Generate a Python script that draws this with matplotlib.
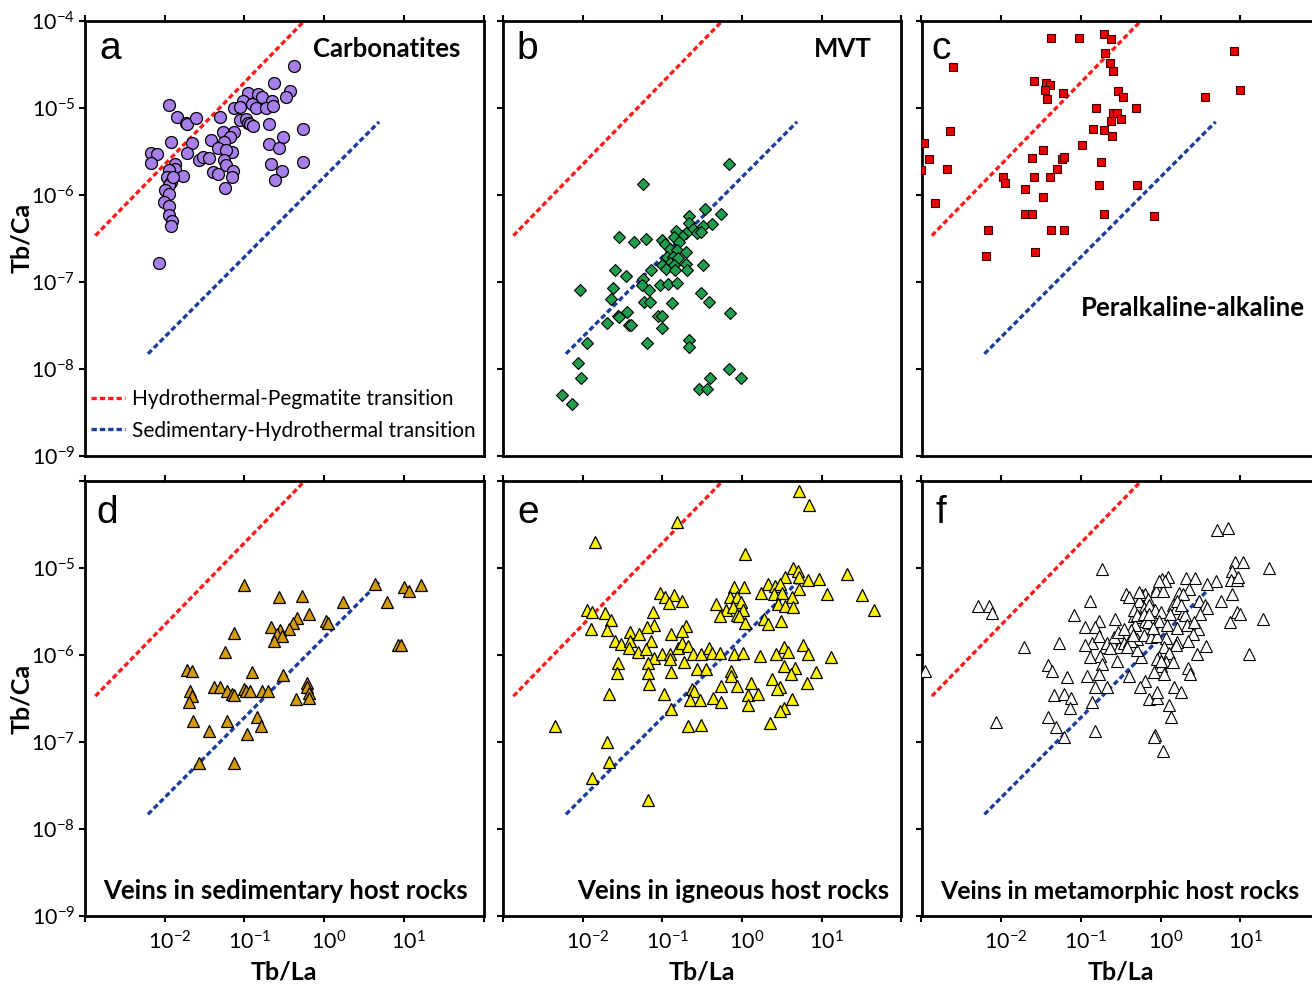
import numpy as np
import matplotlib
matplotlib.use("Agg")
import matplotlib.pyplot as plt
from matplotlib.lines import Line2D
from matplotlib.transforms import ScaledTranslation

plt.rcParams['font.family'] = ['Lato', 'DejaVu Sans']
plt.rcParams['mathtext.fontset'] = 'custom'
plt.rcParams['mathtext.rm'] = 'Lato'
plt.rcParams['mathtext.it'] = 'Lato:italic'
plt.rcParams['mathtext.bf'] = 'Lato:bold'

# ---------------- data (log10 values) ----------------
# a: Carbonatites
carb_log_tbla = [-0.375, -0.63, -0.43, -0.48, -0.96, -0.83, -0.78, -0.65, -1.02, -1.13,
                 -1.05, -0.91, -0.85, -0.73, -0.64, -1.94, -1.84, -1.73, -1.72, -1.61,
                 -1.30, -1.06, -0.98, -0.96, -0.93, -0.89, -0.69, -0.26, -1.92, -1.66,
                 -1.72, -1.42, -1.27, -1.13, -1.18, -1.25, -1.33, -1.16, -1.23, -0.69,
                 -0.51, -0.56, -2.17, -2.10, -2.17, -1.57, -1.52, -1.45, -1.25, -1.23,
                 -1.40, -1.33, -1.14, -1.15, -1.24, -0.66, -0.53, -0.61, -0.26, -1.87,
                 -1.87, -1.77, -1.95, -1.97, -1.92, -1.95, -2.00, -1.95, -2.01, -1.94,
                 -1.94, -1.91, -1.92, -2.07, -1.90]
carb_log_tbca = [-4.52, -4.71, -4.81, -4.87, -4.83, -4.84, -4.87, -4.92, -4.92, -5.00,
                 -4.99, -4.96, -5.00, -5.00, -4.98, -4.97, -5.10, -5.17, -5.18, -5.12,
                 -5.10, -5.14, -5.13, -5.17, -5.19, -5.21, -5.18, -5.24, -5.39, -5.40,
                 -5.52, -5.37, -5.28, -5.28, -5.34, -5.39, -5.46, -5.51, -5.49, -5.41,
                 -5.34, -5.46, -5.52, -5.53, -5.63, -5.60, -5.57, -5.58, -5.60, -5.66,
                 -5.74, -5.76, -5.73, -5.79, -5.92, -5.65, -5.73, -5.83, -5.62, -5.65,
                 -5.70, -5.78, -5.72, -5.79, -5.85, -5.89, -5.95, -5.99, -6.08, -6.13,
                 -6.23, -6.30, -6.36, -6.79, -5.80]

# b: MVT
mvt_log_tbla = [-0.17, -1.24, -0.46, -0.27, -0.66, -0.38, -0.49, -0.66, -0.61, -0.57,
                -0.52, -0.71, -0.75, -0.83, -0.86, -0.79, -1.00, -0.97, -0.91, -0.82,
                -0.70, -0.94, -0.87, -0.81, -0.91, -1.00, -0.86, -0.95, -0.84, -0.70,
                -0.69, -0.49, -1.55, -1.36, -1.20, -1.59, -1.46, -1.14, -1.24, -1.62,
                -1.25, -1.17, -1.03, -0.93, -0.82, -2.03, -1.64, -1.23, -1.16, -0.88,
                -0.51, -0.42, -1.44, -1.56, -1.54, -1.70, -1.42, -1.39, -1.06, -1.00,
                -1.01, -0.15, -1.95, -1.19, -0.66, -0.66, -2.06, -2.02, -0.16, -0.02,
                -0.40, -0.54, -0.44, -2.26, -2.14]
mvt_log_tbca = [-5.64, -5.88, -6.16, -6.22, -6.24, -6.34, -6.36, -6.32, -6.39, -6.44,
                -6.43, -6.44, -6.47, -6.42, -6.48, -6.54, -6.52, -6.57, -6.62, -6.64,
                -6.66, -6.72, -6.72, -6.73, -6.79, -6.81, -6.81, -6.85, -6.87, -6.80,
                -6.87, -6.81, -6.48, -6.54, -6.51, -6.86, -6.93, -6.86, -6.97, -7.07,
                -7.04, -7.10, -7.04, -7.03, -7.01, -7.10, -7.20, -7.23, -7.23, -7.24,
                -7.13, -7.23, -7.35, -7.40, -7.41, -7.48, -7.50, -7.50, -7.40, -7.40,
                -7.53, -7.36, -7.71, -7.71, -7.67, -7.75, -7.93, -8.11, -8.01, -8.11,
                -8.11, -8.23, -8.23, -8.30, -8.41]

# c: Peralkaline-alkaline
peralk_log_tbla = [-1.37, -1.03, -0.71, -0.62, -0.70, -0.63, -0.60, 0.92, 0.99, 0.56,
                   -2.60, -1.59, -1.44, -1.39, -1.45, -1.42, -1.23, -0.53, -0.47, -0.81,
                   -0.31, -0.60, -0.55, -0.50, -0.62, -0.85, -0.71, -0.61, -2.64, -2.97,
                   -2.90, -3.00, -2.68, -0.98, -1.48, -1.61, -1.24, -1.21, -1.30, -0.75,
                   -1.98, -1.95, -1.59, -1.39, -1.70, -1.48, -0.77, -0.30, -2.83, -1.70,
                   -1.61, -0.71, -0.08, -2.16, -1.37, -1.21, -2.19, -1.57]
peralk_log_tbca = [-4.20, -4.19, -4.15, -4.21, -4.37, -4.48, -4.57, -4.35, -4.79, -4.87,
                   -4.53, -4.69, -4.71, -4.74, -4.79, -4.90, -4.83, -4.81, -4.88, -5.00,
                   -5.00, -5.06, -5.06, -5.13, -5.15, -5.24, -5.25, -5.32, -5.27, -5.40,
                   -5.59, -5.71, -5.70, -5.43, -5.48, -5.58, -5.59, -5.56, -5.70, -5.62,
                   -5.80, -5.86, -5.80, -5.80, -5.93, -6.02, -5.89, -5.89, -6.10, -6.22,
                   -6.22, -6.22, -6.24, -6.41, -6.41, -6.41, -6.71, -6.66]

# d: Veins in sedimentary host rocks
sed_log_tbla = [-1.01, -0.57, -0.28, 0.64, 1.00, 1.07, 1.22, 0.24, 0.79, -0.19,
                0.03, 0.05, -0.34, -0.39, -0.44, -0.66, -0.55, -0.59, -0.53, -0.63,
                -1.13, -1.24, 0.93, 0.97, -1.72, -1.66, -0.90, -0.52, -0.21, -0.22,
                -0.19, -0.19, -0.35, -1.68, -1.66, -1.70, -1.38, -1.30, -1.22, -1.15,
                -1.13, -1.01, -0.98, -0.93, -0.78, -0.70, -1.64, -1.22, -1.44, -0.84,
                -0.79, -0.97, -1.57, -1.13]
sed_log_tbca = [-5.19, -5.33, -5.32, -5.18, -5.21, -5.26, -5.19, -5.39, -5.39, -5.53,
                -5.60, -5.63, -5.57, -5.63, -5.70, -5.68, -5.71, -5.76, -5.78, -5.84,
                -5.74, -5.96, -5.88, -5.88, -6.17, -6.18, -6.19, -6.23, -6.32, -6.37,
                -6.43, -6.49, -6.50, -6.41, -6.47, -6.54, -6.37, -6.36, -6.41, -6.45,
                -6.46, -6.39, -6.41, -6.41, -6.41, -6.41, -6.76, -6.76, -6.87, -6.71,
                -6.81, -6.91, -7.24, -7.24]

# e: Veins in igneous host rocks
ign_log_tbla = [0.71, 0.84, -0.82, -1.85, 0.04, 0.64, 0.70, 0.71, 0.83, 0.96,
                1.31, 0.54, 0.32, 0.41, 0.47, 0.72, 1.07, 1.51, 1.65, -0.10,
                0.03, 0.24, 0.40, 0.50, 0.62, -0.15, -0.06, -0.02, 0.45, 0.54,
                0.64, -0.33, -0.20, -0.11, 0.01, -0.28, -0.07, -0.04, 0.04, 0.27,
                0.33, 0.49, -1.03, -0.97, -0.86, -0.92, -0.75, -1.95, -1.88, -1.72,
                -1.65, -1.89, -1.69, -1.12, -1.10, -1.19, -0.71, -0.75, -1.41, -1.29,
                -1.14, -1.59, -1.52, -1.41, -1.42, -1.30, -1.20, -1.11, -1.00, -0.89,
                -0.90, -0.81, -0.75, -0.68, -0.61, -0.52, -0.42, -0.38, -0.28, -0.10,
                0.01, 0.22, 0.43, 0.53, 0.57, 0.76, 0.83, 1.11, -0.91, -0.73,
                -1.18, -1.56, -1.57, -1.18, -0.89, -0.56, -0.45, -0.14, -0.14, 0.53,
                0.67, 0.61, 0.93, 0.38, -1.17, -0.26, -0.06, 0.11, 0.47, 0.44,
                0.81, -1.67, -0.98, -0.63, -0.60, -0.65, -0.53, -0.36, -0.26, 0.07,
                0.20, 0.08, 0.63, 0.52, 0.48, -0.89, -2.35, -0.68, -0.51, 0.35,
                -1.69, -1.67, -1.88, -1.18]
ign_log_tbca = [-4.11, -4.27, -4.47, -4.70, -4.84, -5.00, -5.03, -5.10, -5.13, -5.12,
                -5.07, -5.10, -5.18, -5.20, -5.18, -5.24, -5.30, -5.31, -5.48, -5.21,
                -5.21, -5.28, -5.30, -5.28, -5.33, -5.33, -5.33, -5.39, -5.41, -5.43,
                -5.44, -5.41, -5.48, -5.44, -5.48, -5.55, -5.54, -5.55, -5.63, -5.58,
                -5.64, -5.60, -5.28, -5.33, -5.31, -5.40, -5.37, -5.48, -5.50, -5.51,
                -5.59, -5.70, -5.71, -5.50, -5.65, -5.67, -5.66, -5.72, -5.73, -5.76,
                -5.83, -5.83, -5.87, -5.83, -5.92, -5.96, -5.93, -6.03, -5.98, -5.75,
                -5.98, -5.92, -5.86, -5.89, -5.98, -5.99, -5.92, -5.97, -5.97, -5.99,
                -5.97, -6.01, -5.99, -5.90, -5.96, -5.88, -5.99, -6.02, -6.04, -6.08,
                -6.09, -6.09, -6.20, -6.20, -6.19, -6.16, -6.16, -6.18, -6.24, -6.12,
                -6.15, -6.22, -6.19, -6.27, -6.33, -6.35, -6.35, -6.32, -6.36, -6.39,
                -6.32, -6.44, -6.44, -6.39, -6.41, -6.51, -6.51, -6.49, -6.54, -6.46,
                -6.45, -6.57, -6.50, -6.61, -6.64, -6.62, -6.81, -6.81, -6.80, -6.78,
                -7.00, -7.23, -7.41, -7.67]

# f: Veins in metamorphic host rocks
meta_log_tbla = [0.71, 0.85, -0.73, 0.93, 1.04, 1.36, 0.89, 0.88, 0.96, 0.97,
                 0.70, 0.58, 0.90, 0.32, 0.43, 0.02, 0.09, 0.05, -0.04, -0.06,
                 0.03, 0.36, 0.23, 0.28, -0.43, -0.40, -0.23, -0.19, -0.16, -0.27,
                 -0.88, -2.29, -2.15, -2.12, -1.09, -0.77, -0.95, -0.82, -0.57, -0.34,
                 -0.21, -0.14, -0.07, 0.00, 0.15, 0.19, 0.12, 0.28, 0.31, 0.48,
                 0.56, 0.58, 0.50, 0.76, 0.96, 1.00, 0.87, 1.28, 1.11, -0.24,
                 -0.19, -0.11, -0.02, 0.08, 0.21, 0.33, 0.47, 0.41, 0.34, 0.57,
                 0.46, -0.32, -0.37, -0.44, -0.50, -0.56, -0.60, -0.52, -0.46, -0.40,
                 -0.29, -0.21, -0.12, -0.04, 0.07, 0.21, 0.19, 0.04, 0.11, -0.02,
                 0.07, 0.15, 0.00, -0.08, 0.04, 0.34, 0.37, -0.25, -0.29, -0.55,
                 -0.70, -0.76, -0.74, -0.86, -0.95, -0.77, -0.67, -1.28, -1.71, -1.41,
                 -1.36, -1.18, -0.92, -0.77, -0.40, -0.19, -0.26, -0.67, -0.82, -1.34,
                 -1.21, -1.13, -1.14, -1.41, -1.31, -1.21, -0.82, -0.86, -0.14, -0.04,
                 -0.05, 0.11, 0.13, 0.17, 0.25, -0.07, -0.08, 0.03, -2.06, -2.96,
                 -0.88, -0.58, -0.53, -0.46, -0.33, -0.29, -0.21, -0.16, -0.10, -0.37,
                 -0.42, -0.35, 0.21, 0.25, 0.42, -0.27, -0.02, -0.14, -0.63, -0.04,
                 0.00]
meta_log_tbca = [-4.56, -4.53, -5.01, -4.93, -4.93, -4.99, -5.03, -5.13, -5.13, -5.10,
                 -5.15, -5.18, -5.30, -5.11, -5.11, -5.12, -5.10, -5.15, -5.21, -5.26,
                 -5.26, -5.24, -5.28, -5.30, -5.30, -5.33, -5.31, -5.29, -5.35, -5.37,
                 -5.37, -5.43, -5.43, -5.51, -5.54, -5.61, -5.68, -5.68, -5.58, -5.55,
                 -5.46, -5.42, -5.48, -5.50, -5.42, -5.45, -5.53, -5.51, -5.54, -5.37,
                 -5.42, -5.46, -5.52, -5.38, -5.50, -5.52, -5.62, -5.58, -5.99, -5.56,
                 -5.60, -5.63, -5.60, -5.65, -5.69, -5.65, -5.70, -5.76, -5.83, -5.89,
                 -5.99, -5.65, -5.71, -5.77, -5.81, -5.83, -5.88, -5.90, -5.86, -5.84,
                 -5.81, -5.77, -5.79, -5.78, -5.80, -5.85, -5.88, -5.90, -5.97, -6.02,
                 -6.08, -6.08, -6.12, -6.19, -6.21, -6.15, -6.21, -6.02, -5.94, -6.06,
                 -5.90, -6.01, -6.10, -5.86, -5.88, -5.78, -5.86, -5.86, -5.91, -6.11,
                 -6.18, -6.25, -6.24, -6.22, -6.24, -6.29, -6.36, -6.36, -6.36, -6.46,
                 -6.45, -6.49, -6.61, -6.71, -6.82, -6.94, -6.87, -6.54, -6.50, -6.49,
                 -6.42, -6.57, -6.71, -6.36, -6.42, -6.92, -6.94, -7.10, -6.77, -6.18,
                 -6.02, -5.79, -5.73, -5.70, -5.48, -5.54, -5.52, -5.62, -5.69, -5.83,
                 -5.90, -5.77, -5.37, -5.42, -5.62, -5.27, -5.15, -5.52, -5.92, -6.04,
                 -6.06]

# Reference transition lines (log10 end points)
hp_log_x = [-2.87, -0.25]
hp_log_y = [-6.47, -4.00]
sh_log_x = [-2.21, 0.69]
sh_log_y = [-7.83, -5.16]

x_ticks = [1e-3, 1e-2, 1e-1, 1e0, 1e1, 1e2]
x_ticklabels = ['', r'$\mathregular{10^{-2}}$', r'$\mathregular{10^{-1}}$',
                r'$\mathregular{10^{0}}$', r'$\mathregular{10^{1}}$', '']
y_ticks = [1e-9, 1e-8, 1e-7, 1e-6, 1e-5, 1e-4]
y_ticklabels = [r'$\mathregular{10^{-9}}$', r'$\mathregular{10^{-8}}$', r'$\mathregular{10^{-7}}$',
                r'$\mathregular{10^{-6}}$', r'$\mathregular{10^{-5}}$', r'$\mathregular{10^{-4}}$']

# ---------------- figure ----------------
W, H = 1312, 984
fig = plt.figure(figsize=(W / 100, H / 100), dpi=100)

col_left = [85, 503, 921.5]
row_top = [21, 481.5]
aw, ah = 398.5, 434.5

RED = '#FF1A1A'
BLUE = '#1A3C9C'


def make_ax(col, row):
    l = col_left[col] / W
    b = (H - row_top[row] - ah) / H
    ax = fig.add_axes([l, b, aw / W, ah / H])
    ax.set_xscale('log')
    ax.set_yscale('log')
    ax.set_xlim(1e-3, 1e2)
    ax.set_ylim(1e-9, 1e-4)
    ax.minorticks_off()
    ax.set_xticks(x_ticks)
    ax.set_yticks(y_ticks)
    for s in ax.spines.values():
        s.set_linewidth(2.0)
    ax.tick_params(which='both', direction='out', top=True, bottom=(row == 1),
                   left=True, right=False, length=4, width=1.5,
                   labelsize=15.5, pad=3)
    ax.tick_params(axis='x', pad=6)
    if row == 1:
        ax.set_xticklabels(x_ticklabels)
        off = ScaledTranslation(5 / 100, 0, fig.dpi_scale_trans)
        for lab in ax.get_xticklabels():
            lab.set_transform(lab.get_transform() + off)
        ax.set_xlabel('Tb/La', fontsize=18, fontweight='bold')
        ax.xaxis.set_label_coords(0.5, -0.103)
    else:
        ax.set_xticklabels([])
    if col == 0:
        labs = list(y_ticklabels)
        if row == 1:
            labs[-1] = ''
        ax.set_yticklabels(labs)
        ax.set_ylabel('Tb/Ca', fontsize=18, fontweight='bold')
        ax.yaxis.set_label_coords(-0.13, 0.5)
    else:
        ax.set_yticklabels([])
    # transition lines
    ax.plot(10 ** np.array(hp_log_x), 10 ** np.array(hp_log_y), color=RED,
            lw=2.4, dashes=(1.6, 0.9), zorder=2)
    ax.plot(10 ** np.array(sh_log_x), 10 ** np.array(sh_log_y), color=BLUE,
            lw=2.4, dashes=(1.6, 0.9), zorder=2)
    return ax


def pts(ax, lx, ly, **kw):
    ax.plot(10 ** np.array(lx), 10 ** np.array(ly), linestyle='none', zorder=3, **kw)


letter_kw = dict(fontsize=28, family=['Liberation Sans', 'DejaVu Sans'], va='baseline', ha='left')
name_kw = dict(fontsize=18.5, fontweight='bold', va='baseline')

# a
ax = make_ax(0, 0)
pts(ax, carb_log_tbla, carb_log_tbca, marker='o', ms=8.6, mfc='#A77FEA', mec='black', mew=0.9)
ax.text(0.037, 0.912, 'a', transform=ax.transAxes, **letter_kw)
ax.text(0.943, 0.918, 'Carbonatites', transform=ax.transAxes, ha='right', **name_kw)
handles = [Line2D([], [], color=RED, lw=2.4, dashes=(1.6, 0.9)),
           Line2D([], [], color=BLUE, lw=2.4, dashes=(1.6, 0.9))]
ax.legend(handles, ['Hydrothermal-Pegmatite transition', 'Sedimentary-Hydrothermal transition'],
          loc='lower left', bbox_to_anchor=(0.0, 0.02), frameon=False, fontsize=15,
          handlelength=1.6, handletextpad=0.35, labelspacing=0.55, borderpad=0.3,
          borderaxespad=0.0)

# b
ax = make_ax(1, 0)
pts(ax, mvt_log_tbla, mvt_log_tbca, marker='D', ms=6.3, mfc='#1E9E4E', mec='black', mew=0.8)
ax.text(0.035, 0.912, 'b', transform=ax.transAxes, **letter_kw)
ax.text(0.925, 0.917, 'MVT', transform=ax.transAxes, ha='right', **name_kw)

# c
ax = make_ax(2, 0)
pts(ax, peralk_log_tbla, peralk_log_tbca, marker='s', ms=6.4, mfc='#EE0000', mec='#3a0000', mew=0.8)
ax.text(0.026, 0.912, 'c', transform=ax.transAxes, **letter_kw)
ax.text(0.962, 0.321, 'Peralkaline-alkaline', transform=ax.transAxes, ha='right', **name_kw)

# d
ax = make_ax(0, 1)
pts(ax, sed_log_tbla, sed_log_tbca, marker='^', ms=8.6, mfc='#D39B0B', mec='black', mew=0.9)
ax.text(0.029, 0.905, 'd', transform=ax.transAxes, **letter_kw)
ax.text(0.503, 0.039, 'Veins in sedimentary host rocks', transform=ax.transAxes, ha='center', **name_kw)

# e
ax = make_ax(1, 1)
pts(ax, ign_log_tbla, ign_log_tbca, marker='^', ms=8.4, mfc='#FFF200', mec='black', mew=0.9)
ax.text(0.035, 0.905, 'e', transform=ax.transAxes, **letter_kw)
ax.text(0.969, 0.039, 'Veins in igneous host rocks', transform=ax.transAxes, ha='right', **name_kw)

# f
ax = make_ax(2, 1)
pts(ax, meta_log_tbla, meta_log_tbca, marker='^', ms=9.0, mfc='white', mec='black', mew=0.8)
ax.text(0.036, 0.905, 'f', transform=ax.transAxes, **letter_kw)
ax.text(0.047, 0.039, 'Veins in metamorphic host rocks', transform=ax.transAxes, ha='left',
        fontsize=17.8, fontweight='bold', va='baseline')

fig.savefig('out.png', dpi=100)
